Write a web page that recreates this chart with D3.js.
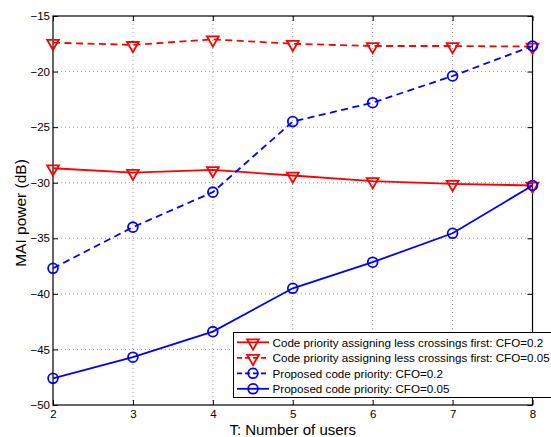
<!DOCTYPE html>
<html><head><meta charset="utf-8">
<script src="https://cdn.jsdelivr.net/npm/d3@7"></script>
<style>body{margin:0;background:#fff}svg{display:block}text{font-family:"Liberation Sans",Arial,sans-serif}</style>
</head><body><svg id="c" width="551" height="437"></svg>
<script>
const users = [2,3,4,5,6,7,8];
const lessCross02 = [-28.7,-29.1,-28.85,-29.35,-29.85,-30.1,-30.25];
const lessCross005 = [-17.4,-17.6,-17.1,-17.5,-17.7,-17.7,-17.75];
const proposed02 = [-37.7,-34.0,-30.85,-24.5,-22.8,-20.4,-17.7];
const proposed005 = [-47.6,-45.7,-43.4,-39.5,-37.15,-34.55,-30.25];
const xTicks = [2,3,4,5,6,7,8];
const yTicks = [-50,-45,-40,-35,-30,-25,-20,-15];
const seriesNames = [
  "Code priority assigning less crossings first: CFO=0.2",
  "Code priority assigning less crossings first: CFO=0.05",
  "Proposed code priority: CFO=0.2",
  "Proposed code priority: CFO=0.05"
];

const series = [
  {name: seriesNames[0], values: lessCross02, color: "#ff0000", dash: null, marker: "tri"},
  {name: seriesNames[1], values: lessCross005, color: "#ff0000", dash: "7,4.5", marker: "tri"},
  {name: seriesNames[2], values: proposed02, color: "#0000ff", dash: "7,4.5", marker: "circ"},
  {name: seriesNames[3], values: proposed005, color: "#0000ff", dash: null, marker: "circ"}
];

const L = 53, R = 532.5, T = 16, B = 405;
const svg = d3.select("#c");
const x = d3.scaleLinear().domain([2,8]).range([L,R]);
const y = d3.scaleLinear().domain([-50,-15]).range([B,T]);

// grid
const grid = svg.append("g").attr("stroke","#999").attr("stroke-width",1).attr("stroke-dasharray","1,3");
xTicks.slice(1,-1).forEach(v=>grid.append("line").attr("x1",x(v)).attr("x2",x(v)).attr("y1",T).attr("y2",B));
yTicks.slice(1,-1).forEach(v=>grid.append("line").attr("x1",L).attr("x2",R).attr("y1",y(v)).attr("y2",y(v)));

// axes (ticks inward)
const fs = "11.5px";
const axB = svg.append("g").attr("transform",`translate(0,${B})`).call(d3.axisBottom(x).tickValues(xTicks).tickSize(-5).tickPadding(4).tickFormat(d3.format("d")));
const axT = svg.append("g").attr("transform",`translate(0,${T})`).call(d3.axisTop(x).tickValues(xTicks).tickSize(-5).tickFormat(""));
const axL = svg.append("g").attr("transform",`translate(${L},0)`).call(d3.axisLeft(y).tickValues(yTicks).tickSize(-5).tickPadding(4).tickFormat(d=>String(d).replace("-","\u2212")));
const axR = svg.append("g").attr("transform",`translate(${R},0)`).call(d3.axisRight(y).tickValues(yTicks).tickSize(-5).tickFormat(""));
[axB,axT,axL,axR].forEach(a=>{
  a.select(".domain").remove();
  a.selectAll("line").attr("stroke","#000");
  a.selectAll("text").attr("font-size",fs).attr("fill","#000").attr("font-family",'"Liberation Sans",Arial,sans-serif');
});
axB.selectAll("text").attr("dy",null).attr("y",13);
axL.selectAll("text").attr("x",-3);
svg.append("rect").attr("x",L).attr("y",T).attr("width",R-L).attr("height",B-T).attr("fill","none").attr("stroke","#000").attr("stroke-width",1.2);

// lines
const lw = 1.8;
const line = d3.line().x((d,i)=>x(users[i])).y(d=>y(d));
const tri = d3.symbol().type(d3.symbolTriangle).size(60);
function drawMarker(g, type, color, cx, cy){
  if(type==="tri"){
    g.append("path").attr("d",tri()).attr("transform",`translate(${cx},${cy+0.5}) rotate(180)`)
      .attr("fill","none").attr("stroke",color).attr("stroke-width",lw);
  } else {
    g.append("circle").attr("cx",cx).attr("cy",cy).attr("r",4.9)
      .attr("fill","none").attr("stroke",color).attr("stroke-width",lw);
  }
}
series.forEach(s=>{
  const g = svg.append("g");
  g.append("path").attr("d",line(s.values)).attr("fill","none").attr("stroke",s.color)
    .attr("stroke-width",lw).attr("stroke-dasharray",s.dash);
  s.values.forEach((v,i)=>drawMarker(g,s.marker,s.color,x(users[i]),y(v)));
});

// labels
svg.append("text").attr("x",(L+R)/2).attr("y",434.5).attr("text-anchor","middle").attr("font-size","15px").text("T: Number of users");
svg.append("text").attr("transform",`translate(26,213) rotate(-90)`).attr("text-anchor","middle").attr("font-size","15.5px").text("MAI power (dB)");

// legend
const lg = svg.append("g");
lg.append("rect").attr("x",233.5).attr("y",332.5).attr("width",330).attr("height",65).attr("fill","#fff").attr("stroke","#000").attr("stroke-width",1);
const rowY = [342.3,357.8,373.3,388.8];
const texts = [];
series.forEach((s,i)=>{
  const yy = rowY[i];
  lg.append("line").attr("x1",237).attr("x2",269).attr("y1",yy).attr("y2",yy).attr("stroke",s.color).attr("stroke-width",lw).attr("stroke-dasharray",s.dash?"5,3":null);
  drawMarker(lg,s.marker,s.color,253,yy);
  texts.push(lg.append("text").attr("x",272.5).attr("y",yy+4.2).attr("font-size","12px").text(s.name));
});
// fit legend font so the longest entry ends at the picture's right edge, as in the reference
const w = texts[1].node().getComputedTextLength();
const lfs = Math.min(12, 12 * (550 - 272.5) / w);
texts.forEach(t=>t.attr("font-size", lfs + "px"));
</script></body></html>
